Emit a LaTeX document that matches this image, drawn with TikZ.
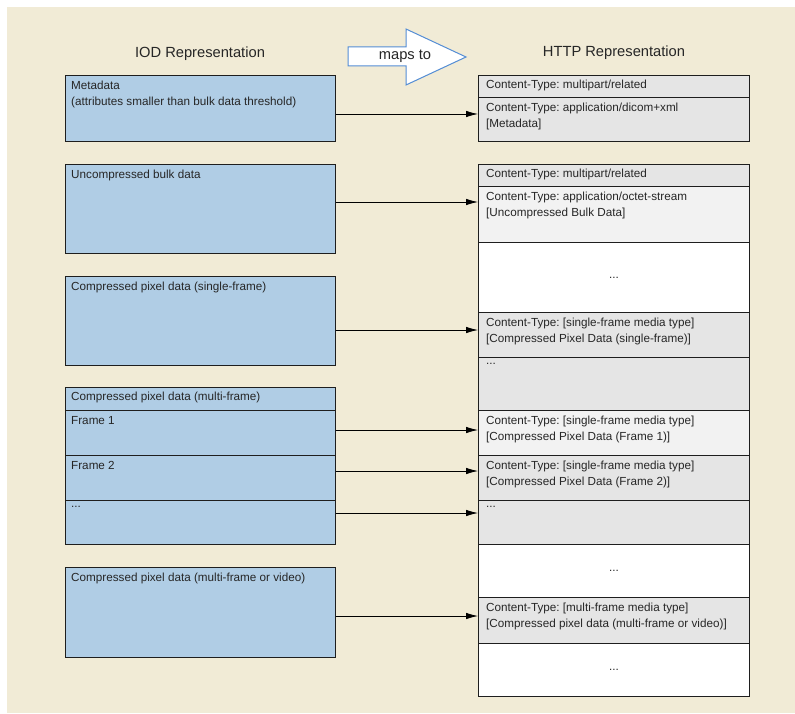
\documentclass[tikz,border=0pt]{standalone}
\usepackage{fontspec}
\setmainfont{Liberation Sans}
\usetikzlibrary{arrows.meta}

\definecolor{bgbeige}{RGB}{241,235,214}
\definecolor{iodblue}{RGB}{176,205,229}
\definecolor{partgray}{RGB}{229,229,229}
\definecolor{partlight}{RGB}{242,242,242}
\definecolor{mapblue}{RGB}{84,141,212}
\definecolor{edge}{RGB}{30,30,30}
\newcommand{\boxfont}{\fontsize{11.7}{15.5}\selectfont\frenchspacing}
\newcommand{\headfont}{\fontsize{14.7}{17}\selectfont}

\begin{document}
\begin{tikzpicture}[x=1pt, y=-1pt,
  iod/.style={draw=edge, line width=0.9pt, fill=iodblue, anchor=north west,
    inner sep=0pt, minimum width=270pt, minimum height=#1},
  part/.style={draw=edge, line width=0.9pt, fill=partgray, anchor=north west,
    inner sep=0pt, minimum width=271pt, minimum height=#1, font=\boxfont, text=black!85},
  txt/.style={anchor=north west, inner sep=0pt, align=left, font=\boxfont, text=black!85},
  head/.style={font=\headfont, text=black!85},
  conn/.style={-{Latex[length=12pt,width=6.5pt]}, line width=0.8pt}]
\useasboundingbox (0,0) rectangle (795,714);
\fill[bgbeige] (7,7) rectangle (795,713);

% titles and the big arrow
\node[head] (iodtitle) at (200,54) {IOD Representation};
\node[head] (httptitle) at (614,53) {HTTP Representation};
\draw[mapblue, fill=white, line width=1pt] (348,47) -- (406,47) -- (406,29) -- (466,57)
  -- (406,85) -- (406,66) -- (348,66) -- cycle;
\node[head] (maps) at (405,56) {maps to};

% IOD side
\node[iod=66] (meta) at (65,75) {};
\node[iod=89] (bulk) at (65,164) {};
\node[iod=89] (single) at (65,276) {};
\node[iod=23] (mfhead) at (65,387) {};
\node[iod=45] (frame1) at (65,410) {};
\node[iod=45] (frame2) at (65,455) {};
\node[iod=44] (mfdots) at (65,500) {};
\node[iod=90] (video) at (65,567) {};

\node[txt] (metat) at ([xshift=6pt,yshift=-6pt]meta.north west)
  {Metadata\\(attributes smaller than bulk data threshold)};
\node[txt] (bulkt) at ([xshift=6pt,yshift=-6pt]bulk.north west) {Uncompressed bulk data};
\node[txt] (singlet) at ([xshift=6pt,yshift=-6pt]single.north west) {Compressed pixel data (single-frame)};
\node[txt] (mfheadt) at ([xshift=6pt,yshift=-5pt]mfhead.north west) {Compressed pixel data (multi-frame)};
\node[txt] (frame1t) at ([xshift=6pt,yshift=-6pt]frame1.north west) {Frame 1};
\node[txt] (frame2t) at ([xshift=6pt,yshift=-6pt]frame2.north west) {Frame 2};
\node[txt] (mfdotst) at ([xshift=6pt,yshift=-6pt]mfdots.north west) {...};
\node[txt] (videot) at ([xshift=6pt,yshift=-6pt]video.north west) {Compressed pixel data (multi-frame or video)};

% HTTP side
\node[part=22] (rmulti) at (478,75) {};
\node[part=44] (rdicom) at (478,97) {};

\node[part=22] (rmulti2) at (478,164) {};
\node[part=56, fill=partlight] (roctet) at (478,186) {};
\node[part=70, fill=white] (rgap1) at (478,242) {...};
\node[part=45] (rsingle) at (478,312) {};
\node[part=53] (rmore1) at (478,357) {};
\node[part=45, fill=partlight] (rframe1) at (478,410) {};
\node[part=45] (rframe2) at (478,455) {};
\node[part=44] (rmore2) at (478,500) {};
\node[part=53, fill=white] (rgap2) at (478,544) {...};
\node[part=46] (rvideo) at (478,597) {};
\node[part=53, fill=white] (rgap3) at (478,643) {...};

\node[txt] (rmultit) at ([xshift=8pt,yshift=-5pt]rmulti.north west) {Content-Type: multipart/related};
\node[txt] (rdicomt) at ([xshift=8pt,yshift=-6pt]rdicom.north west)
  {Content-Type: application/dicom+xml\\{[Metadata]}};
\node[txt] (rmulti2t) at ([xshift=8pt,yshift=-5pt]rmulti2.north west) {Content-Type: multipart/related};
\node[txt] (roctett) at ([xshift=8pt,yshift=-6pt]roctet.north west)
  {Content-Type: application/octet-stream\\{[Uncompressed Bulk Data]}};
\node[txt] (rsinglet) at ([xshift=8pt,yshift=-6pt]rsingle.north west)
  {Content-Type: [single-frame media type]\\{[Compressed Pixel Data (single-frame)]}};
\node[txt] (rmore1t) at ([xshift=8pt,yshift=-6pt]rmore1.north west) {...};
\node[txt] (rframe1t) at ([xshift=8pt,yshift=-6pt]rframe1.north west)
  {Content-Type: [single-frame media type]\\{[Compressed Pixel Data (Frame 1)]}};
\node[txt] (rframe2t) at ([xshift=8pt,yshift=-6pt]rframe2.north west)
  {Content-Type: [single-frame media type]\\{[Compressed Pixel Data (Frame 2)]}};
\node[txt] (rmore2t) at ([xshift=8pt,yshift=-6pt]rmore2.north west) {...};
\node[txt] (rvideot) at ([xshift=8pt,yshift=-6pt]rvideo.north west)
  {Content-Type: [multi-frame media type]\\{[Compressed pixel data (multi-frame or video)]}};

% maps
\draw[conn] (meta.east |- 0,114) -- (rdicom.west |- 0,114);
\draw[conn] (bulk.east |- 0,202) -- (roctet.west |- 0,202);
\draw[conn] (single.east |- 0,330) -- (rsingle.west |- 0,330);
\draw[conn] (frame1.east |- 0,430) -- (rframe1.west |- 0,430);
\draw[conn] (frame2.east |- 0,471) -- (rframe2.west |- 0,471);
\draw[conn] (mfdots.east |- 0,513) -- (rmore2.west |- 0,513);
\draw[conn] (video.east |- 0,616) -- (rvideo.west |- 0,616);
\end{tikzpicture}
\end{document}
